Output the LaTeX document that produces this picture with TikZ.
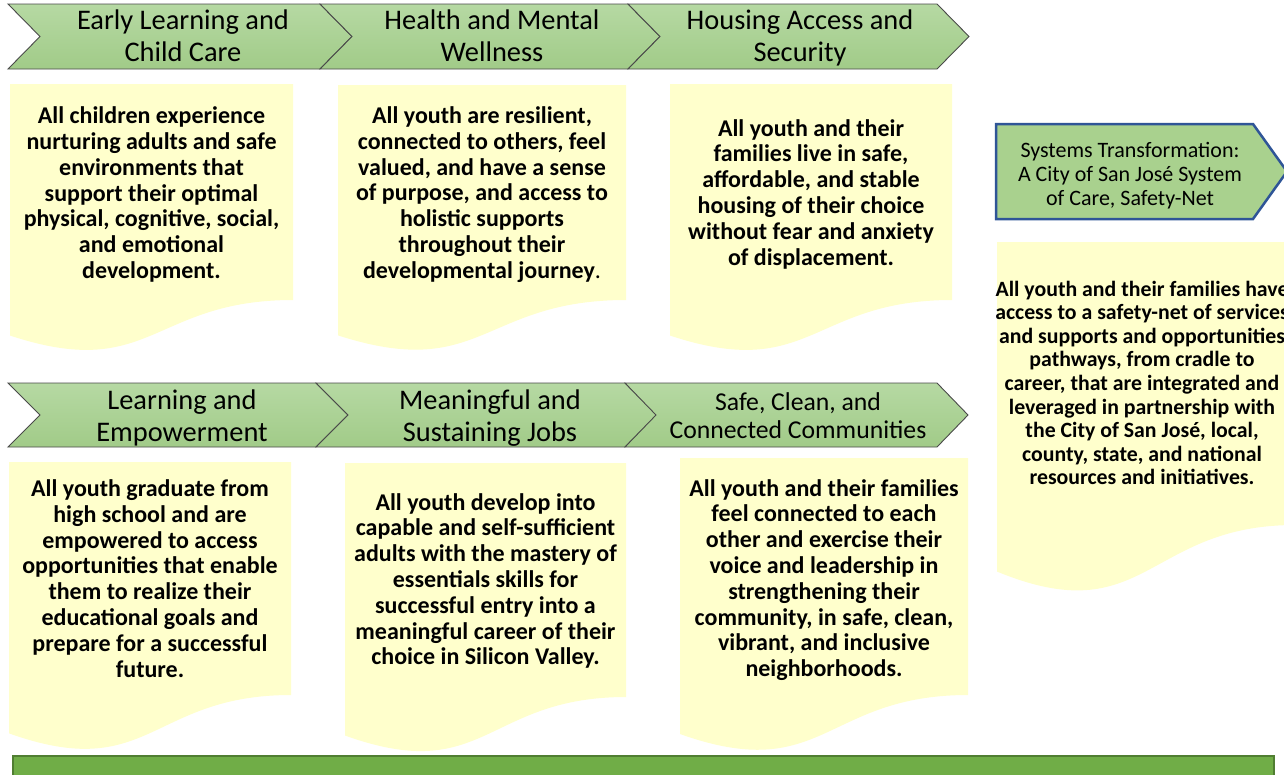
\documentclass[tikz,border=0pt]{standalone}
\usepackage{fontspec}
\setmainfont{Carlito}
\definecolor{chevline}{HTML}{4A4A4A}
\definecolor{chevtop}{HTML}{B6D9A3}
\definecolor{chevbot}{HTML}{A1CB88}
\definecolor{docyellow}{HTML}{FFFFCC}
\definecolor{sysfill}{HTML}{A9D18E}
\definecolor{sysline}{HTML}{2F5597}
\definecolor{barfill}{HTML}{70AD47}
\definecolor{barline}{HTML}{507E32}
\tikzset{
  chev/.style={draw=chevline, line width=0.9pt, line join=miter, top color=chevtop, bottom color=chevbot},
  chevtext/.style={align=center, inner sep=0pt, font=\fontsize{28.4}{32}\selectfont},
  chevtextsm/.style={align=center, inner sep=0pt, font=\fontsize{25.7}{28}\selectfont},
  doctext/.style={align=center, inner sep=0pt, font=\fontsize{24}{25.8}\selectfont\bfseries},
  doctextsm/.style={align=center, inner sep=0pt, font=\fontsize{21.8}{23.6}\selectfont\bfseries},
  systext/.style={align=center, inner sep=0pt, font=\fontsize{22}{24}\selectfont},
}
\newcommand\mychevron[5]{% x0 x1 top bottom d
  \path[chev] (#1,#3) -- (#2,#3) -- ({#2+#5},{(#3+#4)/2}) -- (#2,#4) -- (#1,#4) -- ({#1+#5},{(#3+#4)/2}) -- cycle;}
\newcommand\mydocshape[4]{% x0 y0 x1 yb
  \pgfmathsetmacro\mydh{(#4-#2)/0.802}
  \fill[docyellow] (#1,#2) -- (#3,#2) -- (#3,#4)
    .. controls ({(#1+#3)/2},#4) and ({(#1+#3)/2},{#2+1.1075*\mydh}) .. (#1,{#2+0.934*\mydh}) -- cycle;}
\begin{document}
\begin{tikzpicture}[x=1pt,y=-1pt]
\clip (0,0) rectangle (1284,774);
\fill[white] (0,0) rectangle (1284,774);

% top row of chevrons
\mychevron{8}{320}{4}{69}{32}
\mychevron{320}{628}{4}{69}{32}
\mychevron{628}{937}{4}{69}{32}
\node[chevtext] (c1) at (183,36) {Early Learning and\\Child Care};
\node[chevtext] (c2) at (492,36) {Health and Mental\\Wellness};
\node[chevtext] (c3) at (800,38) {Housing Access and\\Security};

% second row of chevrons
\mychevron{8}{316}{383}{447}{32}
\mychevron{316}{625}{383}{447}{32}
\mychevron{625}{937}{383}{447}{31}
\node[chevtext] (c4) at (182,418) {Learning and\\Empowerment};
\node[chevtext] (c5) at (490,418) {Meaningful and\\Sustaining Jobs};
\node[chevtextsm] (c6) at (798,415.5) {Safe, Clean, and\\Connected Communities};

% yellow document shapes
\mydocshape{10}{84}{293}{300}
\mydocshape{338}{85}{626}{300}
\mydocshape{670}{84}{952}{300}
\mydocshape{9}{462}{291}{695}
\mydocshape{345}{463}{626}{697}
\mydocshape{680}{458}{968}{695}
\mydocshape{997}{242}{1295}{525}

\node[doctext] (d1) at (151.5,194.5) {All children experience\\nurturing adults and safe\\environments that\\support their optimal\\physical, cognitive, social,\\and emotional\\development.};
\node[doctext] (d2) at (482,194.5) {All youth are resilient,\\connected to others, feel\\valued, and have a sense\\of purpose, and access to\\holistic supports\\throughout their\\developmental journey{\mdseries .}};
\node[doctext] (d3) at (811,194) {All youth and their\\families live in safe,\\affordable, and stable\\housing of their choice\\without fear and anxiety\\of displacement.};
\node[doctext] (d4) at (150,578.5) {All youth graduate from\\high school and are\\empowered to access\\opportunities that enable\\them to realize their\\educational goals and\\prepare for a successful\\future.};
\node[doctext] (d5) at (485.5,581) {All youth develop into\\capable and self-sufficient\\adults with the mastery of\\essentials skills for\\successful entry into a\\meaningful career of their\\choice in Silicon Valley.};
\node[doctext] (d6) at (824,580) {All youth and their families\\feel connected to each\\other and exercise their\\voice and leadership in\\strengthening their\\community, in safe, clean,\\vibrant, and inclusive\\neighborhoods.};
\node[doctextsm] (d7) at (1142,383) {All youth and their families have\\access to a safety-net of services\\and supports and opportunities\\pathways, from cradle to\\career, that are integrated and\\leveraged in partnership with\\the City of San José, local,\\county, state, and national\\resources and initiatives.};

% systems transformation pentagon
\path[draw=sysline, line width=2.5pt, fill=sysfill, line join=miter]
  (996,124) -- (1253,124) -- (1287,171.5) -- (1253,219) -- (996,219) -- cycle;
\node[systext] (s1) at (1130,176) {Systems Transformation:\\A City of San José System\\of Care, Safety-Net};

% bottom bar
\path[draw=barline, line width=2.5pt, fill=barfill] (13,756) rectangle (1274,800);
\end{tikzpicture}
\end{document}
